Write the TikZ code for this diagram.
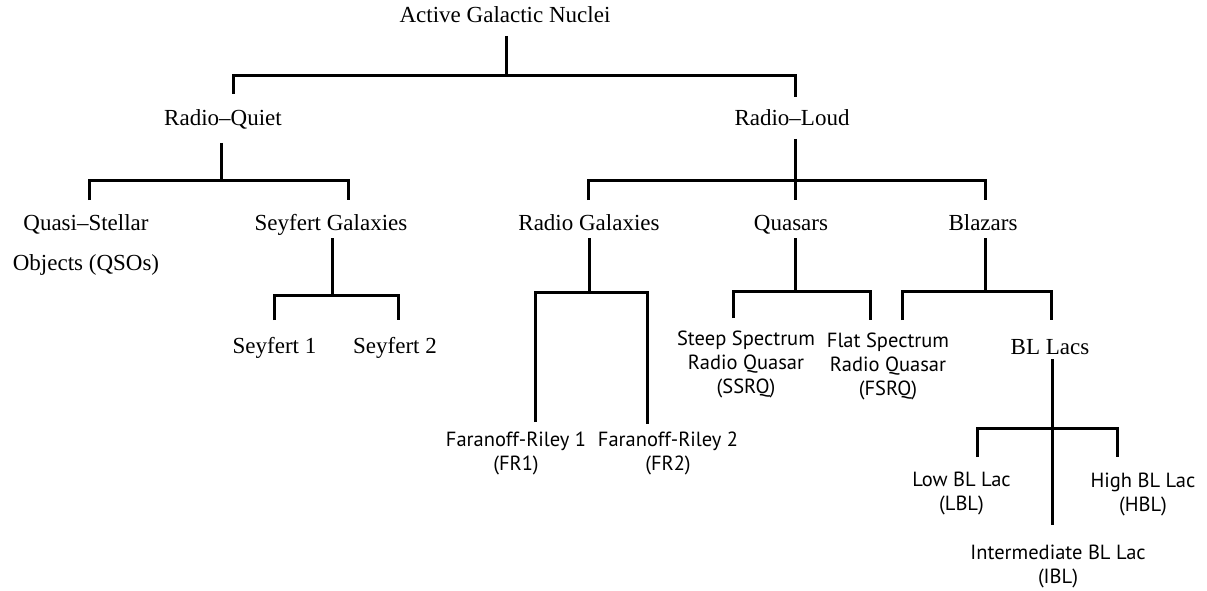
\documentclass[tikz,border=0pt]{standalone}
\usepackage{fontspec}
\setmainfont{Liberation Serif}
\newfontfamily\leaffont{PT Sans}
\tikzset{
  classnode/.style={
    font=\fontsize{23}{23}\selectfont,
    inner sep=0pt,
    anchor=base
  },
  qsonode/.style={
    font=\fontsize{23}{40}\selectfont,
    inner sep=0pt,
    anchor=base,
    align=center
  },
  leafnode/.style={
    font=\leaffont\fontsize{20.5}{24}\selectfont,
    inner sep=0pt,
    anchor=base,
    align=center
  },
  branch/.style={
    line width=3pt
  }
}
\begin{document}
\begin{tikzpicture}[x=1pt,y=-1pt]
  \useasboundingbox (0,0) rectangle (1207,591);

  % ------------------------------------------------------------------
  % Class labels
  % ------------------------------------------------------------------
  \node[classnode] (agn) at (505,23) {Active Galactic Nuclei};
  \node[classnode] (rq) at (223,126) {Radio--Quiet};
  \node[classnode] (rl) at (792,126) {Radio--Loud};

  % multi-line nodes sit on the baseline of their last line
  \node[qsonode] (qso) at (86,270) {Quasi--Stellar\\Objects (QSOs)};
  \node[classnode] (sey) at (331,230) {Seyfert Galaxies};
  \node[classnode] (rg) at (589,230) {Radio Galaxies};
  \node[classnode] (qsr) at (791,230) {Quasars};
  \node[classnode] (blz) at (983,230) {Blazars};

  \node[classnode] (sey1) at (274.5,353) {Seyfert 1};
  \node[classnode] (sey2) at (395,353) {Seyfert 2};
  \node[classnode] (blac) at (1050,354) {BL Lacs};

  % ------------------------------------------------------------------
  % Leaf labels
  % ------------------------------------------------------------------
  \node[leafnode] (fr1) at (516,470) {Faranoff-Riley 1\\(FR1)};
  \node[leafnode] (fr2) at (668,470) {Faranoff-Riley 2\\(FR2)};
  \node[leafnode] (ssrq) at (746,393) {Steep Spectrum\\Radio Quasar\\(SSRQ)};
  \node[leafnode] (fsrq) at (888,395) {Flat Spectrum\\Radio Quasar\\(FSRQ)};
  \node[leafnode] (lbl) at (961.5,510) {Low BL Lac\\(LBL)};
  \node[leafnode] (hbl) at (1143,511) {High BL Lac\\(HBL)};
  \node[leafnode] (ibl) at (1058,583) {Intermediate BL Lac\\(IBL)};

  % ------------------------------------------------------------------
  % Branch points
  % ------------------------------------------------------------------
  \coordinate (agnS) at (506,36);   \coordinate (agnJ) at (506,76);
  \coordinate (rqN) at (233,94);    \coordinate (rlN) at (795,97);
  \coordinate (rqS) at (221,143);   \coordinate (rqJ) at (221,180);
  \coordinate (qsoN) at (89,200);   \coordinate (seyN) at (348,200);
  \coordinate (rlS) at (795,139);   \coordinate (rlJ) at (795,180);
  \coordinate (rgN) at (588,200);   \coordinate (qsrN) at (795,200);
  \coordinate (blzN) at (985,200);
  \coordinate (seyS) at (332,238);  \coordinate (seyJ) at (332,295);
  \coordinate (sey1N) at (274,320); \coordinate (sey2N) at (398,320);
  \coordinate (rgS) at (589,238);   \coordinate (rgJ) at (589,292);
  \coordinate (fr1N) at (535,422);  \coordinate (fr2N) at (647,424);
  \coordinate (qsrS) at (795,238);  \coordinate (qsrJ) at (795,291);
  \coordinate (ssrqN) at (733,318); \coordinate (fsrqN) at (870,320);
  \coordinate (blzS) at (985,238);  \coordinate (blzJ) at (985,291);
  \coordinate (fsrqbN) at (902,320); \coordinate (blacN) at (1051,320);
  \coordinate (blacS) at (1052,359); \coordinate (blacJ) at (1052,428);
  \coordinate (lblN) at (977,457);  \coordinate (hblN) at (1117,457);
  \coordinate (iblN) at (1052,525);

  % ------------------------------------------------------------------
  % Branches
  % ------------------------------------------------------------------
  \draw[branch] (agnS) -- (agnJ);
  \draw[branch] (rqN) |- (agnJ) -| (rlN);

  \draw[branch] (rqS) -- (rqJ);
  \draw[branch] (qsoN) |- (rqJ) -| (seyN);

  \draw[branch] (rlS) -- (qsrN);
  \draw[branch] (rgN) |- (rlJ) -| (blzN);

  \draw[branch] (seyS) -- (seyJ);
  \draw[branch] (sey1N) |- (seyJ) -| (sey2N);

  \draw[branch] (rgS) -- (rgJ);
  \draw[branch] (fr1N) |- (rgJ) -| (fr2N);

  \draw[branch] (qsrS) -- (qsrJ);
  \draw[branch] (ssrqN) |- (qsrJ) -| (fsrqN);

  \draw[branch] (blzS) -- (blzJ);
  \draw[branch] (fsrqbN) |- (blzJ) -| (blacN);

  % BL Lacs: middle stem runs through to the intermediate class
  \draw[branch] (blacS) -- (iblN);
  \draw[branch] (lblN) |- (blacJ) -| (hblN);
\end{tikzpicture}
\end{document}
